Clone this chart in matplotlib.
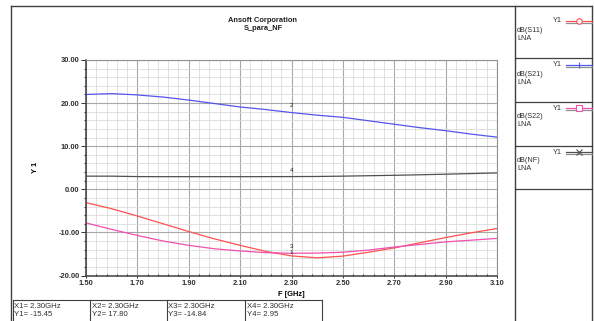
import matplotlib
matplotlib.use("Agg")
import matplotlib.pyplot as plt
from matplotlib.lines import Line2D
from matplotlib.ticker import MultipleLocator, FormatStrFormatter

plt.rcParams["font.family"] = ["Liberation Sans", "DejaVu Sans"]

W, H = 594, 321

# data
freq = [1.50, 1.60, 1.70, 1.80, 1.90, 2.00, 2.10, 2.20, 2.30, 2.40, 2.50, 2.60, 2.70, 2.80, 2.90, 3.00, 3.10]
s11 = [-3.1, -4.5, -6.2, -8.0, -9.8, -11.5, -13.0, -14.4, -15.45, -15.9, -15.5, -14.6, -13.6, -12.4, -11.2, -10.1, -9.1]
s21 = [22.0, 22.2, 21.9, 21.4, 20.7, 19.9, 19.1, 18.5, 17.8, 17.2, 16.7, 15.9, 15.1, 14.3, 13.6, 12.8, 12.1]
s22 = [-7.8, -9.3, -10.7, -12.0, -13.0, -13.8, -14.3, -14.7, -14.84, -14.8, -14.6, -14.1, -13.4, -12.8, -12.2, -11.8, -11.4]
nf = [3.05, 3.05, 2.95, 2.93, 2.93, 2.93, 2.93, 2.94, 2.95, 2.98, 3.05, 3.15, 3.25, 3.37, 3.5, 3.65, 3.8]

trace_names = ["dB(S11)", "dB(S21)", "dB(S22)", "dB(NF)"]
trace_colors = ["#ff5050", "#5555f0", "#f050b0", "#505050"]
trace_markers = ["o", "|", "s", "x"]

marker_x = ["X1= 2.30GHz", "X2= 2.30GHz", "X3= 2.30GHz", "X4= 2.30GHz"]
marker_y = ["Y1= -15.45", "Y2= 17.80", "Y3= -14.84", "Y4= 2.95"]
marker_ids = ["1", "2", "3", "4"]
marker_label_y = [-14.6, 19.5, -13.3, 4.4]


def fx(x):
    return x / W


def fy(y):
    return 1 - y / H


def hline(fig, x0, x1, y, color="#404040", lw=1.0):
    fig.add_artist(Line2D([fx(x0), fx(x1)], [fy(y), fy(y)], color=color, lw=lw))


def vline(fig, x, y0, y1, color="#404040", lw=1.0):
    fig.add_artist(Line2D([fx(x), fx(x)], [fy(y0), fy(y1)], color=color, lw=lw))


fig = plt.figure(figsize=(W / 100, H / 100), dpi=100)
ax = fig.add_axes([fx(86), fy(275.5), fx(497) - fx(86), fy(60) - fy(275.5)])

series = [s11, s21, s22, nf]
for vals, c in zip(series, trace_colors):
    ax.plot(freq, vals, color=c, lw=0.9)

ax.set_xlim(1.5, 3.1)
ax.set_ylim(-20, 30)
ax.xaxis.set_major_locator(MultipleLocator(0.2, offset=0.1))
ax.xaxis.set_minor_locator(MultipleLocator(0.04, offset=0.02))
ax.yaxis.set_major_locator(MultipleLocator(10))
ax.yaxis.set_minor_locator(MultipleLocator(2))
ax.xaxis.set_major_formatter(FormatStrFormatter("%.2f"))
ax.yaxis.set_major_formatter(FormatStrFormatter("%.2f"))
ax.grid(which="major", color="#a8a8a8", lw=0.8)
ax.grid(which="minor", color="#dcdcdc", lw=0.6)
ax.set_axisbelow(True)

ax.tick_params(axis="y", which="major", direction="out", length=3.6, width=0.7, pad=1,
               labelsize=5.4, colors="#303030")
ax.tick_params(axis="y", which="minor", direction="out", length=1.5, width=0.6)
ax.tick_params(axis="x", which="major", direction="out", length=1.5, width=0.7, pad=1.5,
               labelsize=5.4, colors="#303030")
ax.tick_params(axis="x", which="minor", direction="in", length=1.5, width=0.6)
for lab in ax.get_xticklabels() + ax.get_yticklabels():
    lab.set_fontweight("bold")

for side in ["left", "bottom"]:
    ax.spines[side].set_color("#404040")
    ax.spines[side].set_linewidth(1.1)
for side in ["top", "right"]:
    ax.spines[side].set_color("#909090")
    ax.spines[side].set_linewidth(0.8)

ax.set_xlabel("F [GHz]", fontsize=5.4, fontweight="bold", labelpad=3)
ax.set_ylabel("Y 1", fontsize=5.4, fontweight="bold", labelpad=14)

for mid, my in zip(marker_ids, marker_label_y):
    ax.text(2.3, my, mid, fontsize=4.5, ha="center", va="center", color="#202020")

fig.text(fx(263), fy(20), "Ansoft Corporation", fontsize=5.4, fontweight="bold",
         ha="center", va="center", color="#202020")
fig.text(fx(263), fy(29), "S_para_NF", fontsize=5.4, fontweight="bold",
         ha="center", va="center", color="#202020")

# outer frame and legend panel
hline(fig, 11, 592, 6)
vline(fig, 11, 6, 321)
vline(fig, 592, 6, 321)
vline(fig, 515, 6, 321)
for sep in [58, 102, 146, 189]:
    hline(fig, 515, 592, sep, lw=0.9)

legend_top = [21, 65, 108, 152]
for name, c, m, y in zip(trace_names, trace_colors, trace_markers, legend_top):
    fig.text(fx(562), fy(y), "Y1", fontsize=5.2, ha="right", va="center", color="#303030")
    hline(fig, 566, 592, y, color=c, lw=0.9)
    hline(fig, 566, 592, y + 2.3, color="#909090", lw=0.9)
    fig.add_artist(Line2D([fx(579)], [fy(y)], marker=m, ms=4, mfc="white", mec=c,
                          mew=0.8, ls="none"))
    fig.text(fx(517), fy(y + 9), name, fontsize=5.2, ha="left", va="center", color="#303030")
    fig.text(fx(517), fy(y + 17), "LNA", fontsize=5.2, ha="left", va="center", color="#303030")

# marker table
col_x = [13, 90, 167, 245]
for x0, tx, ty in zip(col_x, marker_x, marker_y):
    hline(fig, x0, x0 + 77, 300, lw=0.8)
    vline(fig, x0, 300, 321, lw=0.8)
    fig.text(fx(x0 + 1.5), fy(306), tx, fontsize=5.6, ha="left", va="center", color="#303030")
    fig.text(fx(x0 + 1.5), fy(315), ty, fontsize=5.6, ha="left", va="center", color="#303030")
vline(fig, 322, 300, 321, lw=0.8)

fig.savefig("out.png", dpi=100)
